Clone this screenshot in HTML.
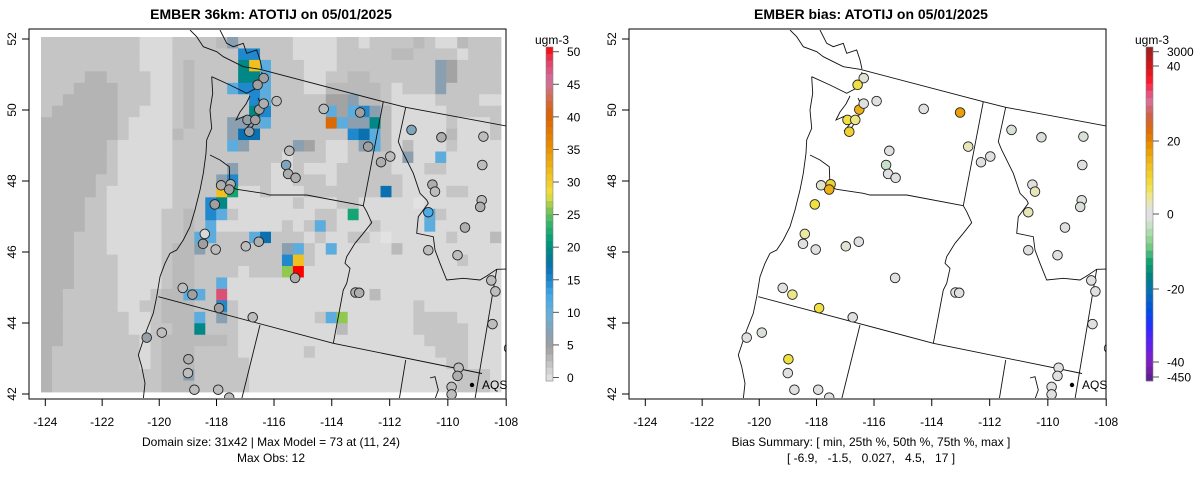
<!DOCTYPE html>
<html><head><meta charset="utf-8"><style>
body{margin:0;background:#fff;}
svg{display:block;font-family:"Liberation Sans",sans-serif;}
</style></head><body>
<svg id="c" width="1200" height="479" viewBox="0 0 1200 479" xmlns="http://www.w3.org/2000/svg">
<defs>
<clipPath id="clipL"><rect x="30" y="30" width="476" height="368"/></clipPath>
<clipPath id="clipR"><rect x="630" y="30" width="476" height="368"/></clipPath>
</defs>
<text x="271" y="19" text-anchor="middle" font-size="14" font-weight="bold">EMBER 36km: ATOTIJ on 05/01/2025</text>
<text x="871" y="19" text-anchor="middle" font-size="14" font-weight="bold">EMBER bias: ATOTIJ on 05/01/2025</text>
<g id="left"></g>
<g id="right"></g>
<text x="271" y="446" text-anchor="middle" font-size="12">Domain size: 31x42 | Max Model = 73 at (11, 24)</text>
<text x="271" y="462" text-anchor="middle" font-size="12">Max Obs: 12</text>
<text x="871" y="446" text-anchor="middle" font-size="12">Bias Summary: [ min, 25th %, 50th %, 75th %, max ]</text>
<text x="871" y="462" text-anchor="middle" font-size="12" xml:space="preserve">[ -6.9,   -1.5,   0.027,   4.5,   17 ]</text>
</svg>
<script>
const xTicks=[-124,-122,-120,-118,-116,-114,-112,-110,-108];
const yTicks=[42,44,46,48,50,52];
const concTicks=[0,5,10,15,20,25,30,35,40,45,50];
const biasTickLabels=["3000","40","20","0","-20","-40","-450"];
const biasTickVals=[44.5,40,20,0,-20,-40,-44.5];
const gridRows=[
"22222222211122"+"2236222221111221222232113222",
"22222222211122"+"2222AA22211112222233222212222".slice(0,28),
"22222222211123"+"2222CG822211122222222"+"2652222",
"22224422221123"+"2222CC822211223322222"+"2652222",
"22244442221123"+"2228AA822211333332122"+"2622222",
"22444442221123"+"22222A82222255"+"6332111"+"1222211",
"24444442211123"+"22222CA2222285"+"8A63111"+"1122222",
"44444442111123"+"222666822222J8"+"66C3111"+"1121112",
"44444442111132"+"2226BB22222222"+"AB83111"+"1131112",
"44444421111122"+"22286222265211"+"2683131"+"1121111",
"44444421111122"+"22222222122211"+"2222161"+"1811111",
"44444421111122"+"22262221121112"+"2222111"+"2211111",
"44444221111122"+"226A2221122212"+"2222211"+"1111111",
"44444211111122"+"22GD1121112222"+"222B211"+"1122111",
"44442211111122"+"2AC11111121112"+"2111110"+"1111111",
"44442211111223"+"2A821111111221"+"D111111"+"8211111",
"44442211111223"+"28111111212821"+"1121111"+"8111111",
"44422211111223"+"882228B2221211"+"2210111"+"1121113",
"44422211111233"+"62222222682181"+"1111311"+"1111111",
"44422221111233"+"22222222AG2111"+"1111111"+"1112111",
"44422221111233"+"22221222EM1111"+"1111111"+"1111111",
"44422221111233"+"22811111111111"+"1111111"+"1111111",
"44222221112338"+"82L11111111111"+"1131111"+"1111111",
"44222221122333"+"22A21111111111"+"1111112"+"1111111",
"44222222112333"+"8262111111128E"+"1111112"+"2221111",
"44222222112233"+"C2221111111113"+"1111112"+"2222111",
"44222222212333"+"33321111111111"+"1111111"+"2222111",
"42222222212333"+"22221111112111"+"1111111"+"1222111",
"42222222212333"+"22222111111111"+"1111111"+"1122111",
"42222222222336"+"22222111111111"+"1111111"+"1112221",
"42222222222333"+"22222111111111"+"1111111"+"1112221"];
const levelValues={"0":0.3,"1":0.9,"2":2.4,"3":3.2,"4":3.6,"5":4.8,"6":7,"7":9,"8":11,"9":13,"A":15,"B":17,"C":19.5,"D":22,"E":26,"G":31,"J":39,"L":47,"M":50};
const stLon=[-116.36,-116.57,-115.91,-114.28,-113.02,-116.92,-116.65,-116.86,-112.74,-115.47,-115.58,-115.51,-115.25,-111.25,-110.22,-108.78,-112.30,-111.98,-108.82,-110.53,-110.44,-108.84,-108.89,-117.84,-117.51,-118.06,-118.41,-118.47,-118.03,-116.98,-116.53,-110.67,-109.41,-110.67,-109.67,-115.27,-119.18,-118.84,-117.91,-116.74,-113.18,-113.05,-120.44,-119.91,-108.51,-108.37,-108.47,-107.90,-118.98,-119.00,-118.77,-117.94,-117.56,-109.63,-109.67,-109.87,-109.87,-116.51,-117.56,-116.36];
const stLat=[50.90,50.71,50.25,50.03,49.93,49.72,49.72,49.39,48.97,48.85,48.45,48.20,48.09,49.44,49.23,49.25,48.53,48.69,48.45,47.90,47.70,47.46,47.27,47.88,47.91,47.34,46.51,46.23,46.07,46.16,46.29,47.12,46.69,46.05,45.91,45.27,44.99,44.80,44.42,44.16,44.86,44.85,43.59,43.73,45.20,44.89,43.97,43.29,42.98,42.59,42.12,42.12,41.90,42.74,42.51,42.20,41.99,50.01,47.76,50.18];
const stObs=[5,5,3,3,5,6,5,6,5,3,8,4,4,8,4,3,4,3,3,4,3,3,4,4,4,5,1,5,3,3,4,12,4,3,3,4,3,5,5,3,4,4,6,3,3,3,3,3,4,3,3,3,3,3,4,3,3,5,5,4];
const stBias=[2,8,0,0,17,8,5,10,3,0,-3,0,0,-2,-2,-2,0,0,0,0,3,0,-2,2,10,8,4,0,0,2,0,3,0,0,0,0,0,5,8,0,0,0,0,-2,0,0,0,0,8,0,0,0,0,0,0,0,0,15,15,0];

const NS="http://www.w3.org/2000/svg";
function mk(tag,attrs,parent){const e=document.createElementNS(NS,tag);for(const k in attrs)e.setAttribute(k,attrs[k]);parent.appendChild(e);return e;}
function hex(c){return [parseInt(c.slice(1,3),16),parseInt(c.slice(3,5),16),parseInt(c.slice(5,7),16)];}
function interp(stops,v){if(v<=stops[0][0])return stops[0][1];for(let i=1;i<stops.length;i++){if(v<=stops[i][0]){const t=(v-stops[i-1][0])/(stops[i][0]-stops[i-1][0]);const a=hex(stops[i-1][1]),b=hex(stops[i][1]);return "rgb("+a.map((x,j)=>Math.round(x+(b[j]-x)*t)).join(",")+")";}}return stops[stops.length-1][1];}
const concStops=[[0,"#e6e6e6"],[2.5,"#c4c4c4"],[5,"#a0a0a0"],[7,"#8aa0b0"],[10,"#6ab0d8"],[13,"#40a8e8"],[15,"#2088cc"],[17,"#0a70b0"],[19,"#00808a"],[21,"#009a78"],[24,"#40b868"],[26,"#90c850"],[28,"#f0e040"],[31,"#f0c020"],[35,"#e89000"],[40,"#d86008"],[43,"#d07060"],[45,"#d070a0"],[48,"#e04060"],[50,"#ff0000"]];
const biasStops=[[-44.5,"#602090"],[-40,"#8020c0"],[-35,"#6020f0"],[-30,"#2030ff"],[-26,"#0050e0"],[-21,"#0870b0"],[-17,"#008080"],[-13,"#10a070"],[-9,"#70c880"],[-6,"#a0d8a0"],[-3,"#c8e0c8"],[-1.5,"#e0e0e0"],[1.5,"#e0e0e0"],[4,"#ece8a0"],[8,"#f0e040"],[13,"#f0c020"],[18,"#e89800"],[22,"#e07000"],[27,"#d06048"],[31,"#d870a0"],[36,"#ff1830"],[40,"#d01818"],[44.5,"#a02020"]];
function concColor(v){return interp(concStops,v);}
function biasColor(v){return interp(biasStops,Math.max(-44.5,Math.min(44.5,v)));}

// axis functions (left panel; right panel offset +600)
function px(lon,off){const d=lon+124;return off+45.3+28.375*d+0.027*d*d;}
function py(lat){return 394-(lat-42)*35.5;}
const nCols=42,nRows=31;
function gx(c){return 41+c*(460/nCols);}
function gy(r){return 37+r*(355/nRows);}

const coastLines=[
[[211.7,76.7],[212.7,93.3],[210,110],[211.7,128.3],[206.7,140],[206,153.3],[203.3,173.3],[200,190],[195,210],[190,226.7],[183.3,240],[176.7,250],[170,253.3],[165,263.3],[160,276.7],[156.7,296.7],[153.3,313.3],[146.7,330],[140,350],[138.3,355],[141.7,366.7],[145,383.3],[143.3,399]],
[[211.7,76.7],[230,85],[246.7,93.3],[256.7,88],[260,80],[262,72]],
[[250,96],[246,104],[240,112],[236,120],[245,116],[250,124],[244,131],[252,127],[258,118],[262,106],[258,98]],
[[190,30],[196.7,36.7],[203.3,46.7],[216.7,51.7],[223.3,56.7],[243.3,66.7],[260,69.3]],
[[220,30],[226.7,43.3],[233.3,46.7],[243.3,43.3],[246.7,53.3],[256.7,50],[260,60],[262,69]],
[[210,155],[220,160],[229.3,166.7],[230,186.7]],
[[430,378],[435,376.7],[438.3,390],[435,399]]];
const borderLines=[
[[260,69.3],[383.3,101.7],[405.7,107.3],[510,126.7]],
[[383.3,101.7],[363.3,205.7]],
[[230,186.7],[236.7,189.3],[263.3,193.3],[270,195],[306.7,195],[363.3,205.7]],
[[363.3,205.7],[366.7,211.7],[371.7,222.7],[363.3,233.3],[355,243.3],[346.7,256.7],[345,263.3],[350,268.3],[346.7,283.3],[343.3,290],[333.3,343.3]],
[[405.7,107.3],[398.3,141.7],[401.7,150],[413.3,173.3],[420,193.3],[426.7,200],[428.3,203.3],[418.3,216.7],[416.7,233.3],[433.3,236.7],[435,250],[440,263.3],[446.7,280],[463.3,278.3],[480,280],[486.7,276],[496.7,269.3],[510,269]],
[[496.7,269.3],[475,399]],
[[158.3,296.7],[333.3,343.3],[482,373.5]],
[[260,325],[241.7,399]],
[[405.7,360],[399.3,399]]];

function drawPanel(g,off,isBias){
  const clip=mk("g",{"clip-path":isBias?"url(#clipR)":"url(#clipL)"},g);
  if(!isBias){
    const hm=mk("g",{},clip);
    
    
    for(let r=0;r<nRows;r++){for(let c=0;c<nCols;c++){
      const v=levelValues[gridRows[r][c]]; if(v===undefined)continue;
      const cell=mk("rect",{x:gx(c).toFixed(2),y:gy(r).toFixed(2),width:(gx(c+1)-gx(c)+0.4).toFixed(2),height:(gy(r+1)-gy(r)+0.4).toFixed(2),fill:concColor(v)},hm);
      
      
    }}
  }
  const lines=mk("g",{transform:"translate("+off+",0)",fill:"none",stroke:"#111","stroke-width":"0.9"},clip);
  
  
  coastLines.concat(borderLines).forEach(l=>{const p=mk("polyline",{points:l.map(q=>q.join(",")).join(" ")},lines);});
  const pts=mk("g",{},clip);
  
  
  for(let i=0;i<stLon.length;i++){
    const col=isBias?biasColor(stBias[i]):concColor(stObs[i]);
    const c=mk("circle",{cx:px(stLon[i],off).toFixed(1),cy:py(stLat[i]).toFixed(1),r:"4.8",fill:col,stroke:"#222","stroke-width":"0.9"},pts);
    
    
  }
  // legend
  const lg=mk("g",{},g);
  
  
  mk("circle",{cx:472+off,cy:385,r:2.2,fill:"#000"},lg);
  const lt=mk("text",{x:482+off,y:389,"font-size":"12"},lg); lt.textContent="AQS";
  // frame
  const fr=mk("rect",{x:29+off,y:29,width:477,height:370,fill:"none",stroke:"#000","stroke-width":"1"},g);
  
  
  // x axis
  const xa=mk("g",{},g);
  
  
  xTicks.forEach(t=>{const x=px(t,off);mk("line",{x1:x,x2:x,y1:399,y2:406,stroke:"#000"},xa);const tx=mk("text",{x:x,y:426,"text-anchor":"middle","font-size":"12"},xa);tx.textContent=t;});
  const ya=mk("g",{},g);
  
  
  yTicks.forEach(t=>{const y=py(t);mk("line",{x1:22+off,x2:29+off,y1:y,y2:y,stroke:"#000"},ya);const tx=mk("text",{x:0,y:0,"text-anchor":"middle","font-size":"12",transform:"translate("+(16+off)+","+y+") rotate(-90)"},ya);tx.textContent=t;});
}

function drawConcBar(g){
  const bx=546,bw=7,top=47,bot=381,n=50;
  const bar=mk("g",{},g);
  
  
  const h=(bot-top)/n;
  for(let i=0;i<n;i++){const v=(i+0.5)*50/n;mk("rect",{x:bx,y:(bot-(i+1)*h).toFixed(2),width:bw,height:(h+0.3).toFixed(2),fill:concColor(v)},bar);}
  mk("rect",{x:bx,y:top,width:bw,height:bot-top,fill:"none",stroke:"#888","stroke-width":"0.6"},bar);
  const vy=v=>377.5-(v/50)*(377.5-51.7);
  concTicks.forEach(t=>{const y=vy(t);mk("line",{x1:bx+bw,x2:bx+bw+6,y1:y,y2:y,stroke:"#555"},bar);const tx=mk("text",{x:567,y:y+4.5,"font-size":"12"},bar);tx.textContent=t;});
  const u=mk("text",{x:552,y:44,"text-anchor":"middle","font-size":"12"},bar);u.textContent="ugm-3";
}
function drawBiasBar(g){
  const bx=1146,bw=7,top=47,bot=381,n=46;
  const bar=mk("g",{},g);
  
  
  const vy=v=>214-v*3.68;
  const h=(bot-top)/n;
  for(let i=0;i<n;i++){const yc=bot-(i+0.5)*h;const v=(214-yc)/3.68;mk("rect",{x:bx,y:(bot-(i+1)*h).toFixed(2),width:bw,height:(h+0.3).toFixed(2),fill:biasColor(v)},bar);}
  mk("rect",{x:bx,y:top,width:bw,height:bot-top,fill:"none",stroke:"#888","stroke-width":"0.6"},bar);
  const pos=[51.7,66,141,214,289,362,377];
  biasTickLabels.forEach((t,i)=>{const y=pos[i];mk("line",{x1:bx+bw,x2:bx+bw+6,y1:y,y2:y,stroke:"#555"},bar);const tx=mk("text",{x:1167,y:y+4.5,"font-size":"12"},bar);tx.textContent=t;});
  const u=mk("text",{x:1152,y:44,"text-anchor":"middle","font-size":"12"},bar);u.textContent="ugm-3";
}
drawPanel(document.getElementById("left"),0,false);
drawPanel(document.getElementById("right"),600,true);
drawConcBar(document.getElementById("left"));
drawBiasBar(document.getElementById("right"));
</script>
</body></html>
